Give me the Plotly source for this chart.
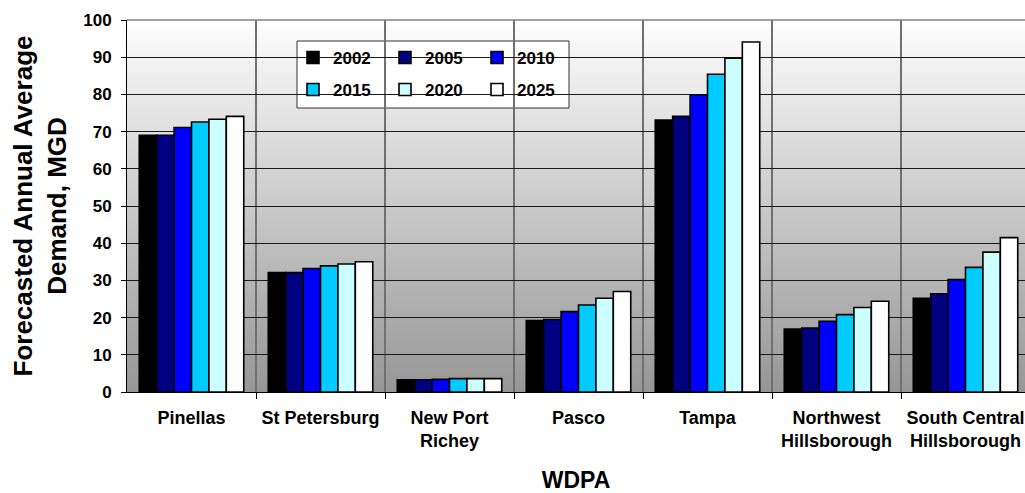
import base64
import struct
import zlib

import plotly.graph_objects as go

# Forecasted annual average demand (MGD) by water demand planning area
areas = ["Pinellas", "St Petersburg", "New Port<br>Richey", "Pasco", "Tampa",
         "Northwest<br>Hillsborough", "South Central<br>Hillsborough"]
years = ["2002", "2005", "2010", "2015", "2020", "2025"]

demand_2002 = [69.0, 32.1, 3.3, 19.2, 73.1, 16.9, 25.2]
demand_2005 = [69.0, 32.1, 3.3, 19.5, 74.1, 17.2, 26.4]
demand_2010 = [71.1, 33.2, 3.4, 21.6, 79.9, 19.0, 30.2]
demand_2015 = [72.6, 33.9, 3.6, 23.4, 85.4, 20.8, 33.5]
demand_2020 = [73.3, 34.4, 3.6, 25.2, 89.7, 22.7, 37.6]
demand_2025 = [74.1, 35.0, 3.6, 27.0, 94.1, 24.4, 41.5]

series = [demand_2002, demand_2005, demand_2010, demand_2015, demand_2020, demand_2025]
colors = ["#000000", "#000080", "#0000ff", "#00ccff", "#ccffff", "#ffffff"]

y_ticks = list(range(0, 101, 10))

FONT = "Liberation Sans, Arial, sans-serif"


def gradient_png(height, top, bottom):
    """Build a 1-pixel-wide vertical grey gradient as a PNG data URI."""
    raw = b""
    for i in range(height):
        t = i / (height - 1)
        v = int(round(top + (bottom - top) * t))
        raw += b"\x00" + bytes([v, v, v])

    def chunk(tag, data):
        return (struct.pack(">I", len(data)) + tag + data
                + struct.pack(">I", zlib.crc32(tag + data) & 0xFFFFFFFF))

    png = b"\x89PNG\r\n\x1a\n"
    png += chunk(b"IHDR", struct.pack(">IIBBBBB", 1, height, 8, 2, 0, 0, 0))
    png += chunk(b"IDAT", zlib.compress(raw, 9))
    png += chunk(b"IEND", b"")
    return "data:image/png;base64," + base64.b64encode(png).decode()


x_pos = list(range(len(areas)))

fig = go.Figure()
for i, (yr, vals, col) in enumerate(zip(years, series, colors)):
    fig.add_trace(go.Bar(
        x=x_pos, y=vals, name=yr,
        marker=dict(color=col, line=dict(color="#000000", width=1.6)),
        legend="legend" if i < 3 else "legend2",
    ))

legend_common = dict(
    orientation="h", xref="paper", yref="paper",
    xanchor="left", yanchor="middle",
    font=dict(family=FONT, size=17, color="#000000", weight="bold"),
    bgcolor="rgba(0,0,0,0)", borderwidth=0,
    entrywidth=47, entrywidthmode="pixels",
    itemclick=False, itemdoubleclick=False,
)

fig.update_layout(
    width=1025, height=493,
    margin=dict(l=127, r=0, t=20, b=101, autoexpand=False),
    paper_bgcolor="#ffffff",
    plot_bgcolor="rgba(0,0,0,0)",
    barmode="group", bargap=0.19, bargroupgap=0.0,
    font=dict(family=FONT, color="#000000"),
    showlegend=True,
    legend=dict(x=(293 - 127) / 898, y=(392 - 58) / 372, **legend_common),
    legend2=dict(x=(293 - 127) / 898, y=(392 - 90) / 372, **legend_common),
    images=[dict(
        source=gradient_png(372, 254, 150),
        xref="paper", yref="paper", x=0, y=1, sizex=1, sizey=1,
        xanchor="left", yanchor="top", sizing="stretch", layer="below",
    )],
    shapes=[
        # legend frame
        dict(type="rect", xref="paper", yref="paper",
             x0=(297 - 127) / 898, x1=(569 - 127) / 898,
             y0=(392 - 108) / 372, y1=(392 - 41) / 372,
             fillcolor="#ffffff", line=dict(color="#333333", width=1), layer="below"),
        # grey top edge of plot area
        dict(type="line", xref="paper", yref="paper", x0=0, x1=1, y0=1, y1=1,
             line=dict(color="#808080", width=1.5)),
    ],
)

fig.update_xaxes(
    range=[-0.5, -0.5 + 898 / 129],
    tickmode="array", tickvals=x_pos, ticktext=areas,
    ticks="", showgrid=False, zeroline=False,
    showline=True, linecolor="#000000", linewidth=1,
    tickfont=dict(family=FONT, size=18, color="#000000", weight="bold"),
    ticklabelstandoff=9,
    minor=dict(tickmode="array", tickvals=[i + 0.5 for i in range(len(areas))],
               ticks="outside", ticklen=6, tickcolor="#000000",
               showgrid=True, gridcolor="#707070", gridwidth=1.5),
    title=dict(text="WDPA", font=dict(family=FONT, size=23, color="#000000", weight="bold"),
               standoff=24),
    fixedrange=True,
)

fig.update_yaxes(
    range=[0, 100], tickmode="array", tickvals=y_ticks,
    ticks="outside", ticklen=5, tickcolor="#000000",
    showgrid=True, gridcolor="#1a1a1a", gridwidth=1, zeroline=False,
    showline=True, linecolor="#000000", linewidth=1,
    tickfont=dict(family=FONT, size=17, color="#000000", weight="bold"),
    ticklabelstandoff=6,
    title=dict(text="Forecasted Annual Average<br>Demand, MGD",
               font=dict(family=FONT, size=26, color="#000000", weight="bold"),
               standoff=9),
    fixedrange=True,
)

fig.write_html("out.html", config={"displayModeBar": False})
